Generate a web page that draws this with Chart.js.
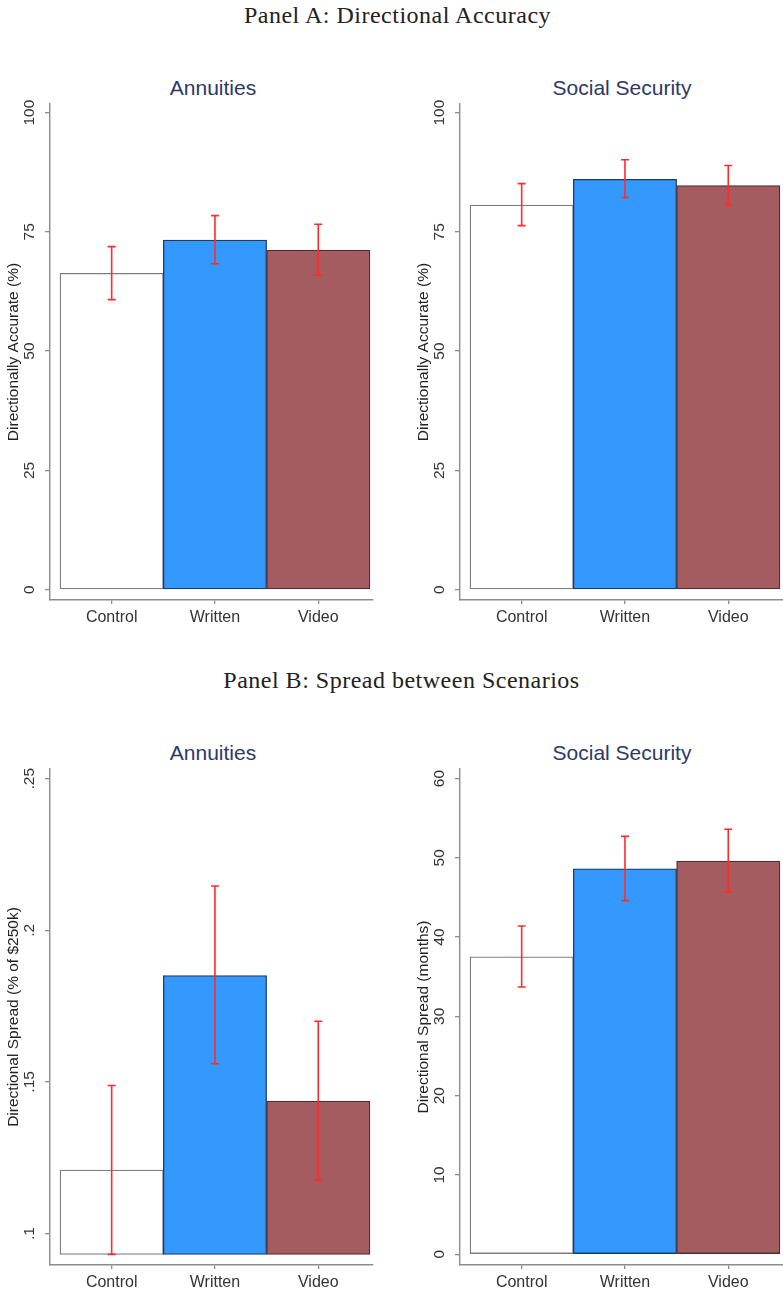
<!DOCTYPE html>
<html>
<head>
<meta charset="utf-8">
<script src="https://cdn.jsdelivr.net/npm/chart.js@4.4.1/dist/chart.umd.min.js"></script>
<style>
  html, body { margin: 0; padding: 0; background: #fff; overflow: hidden; }
  #page { position: relative; width: 783px; height: 1293px; }
  .panel-hdr { position: absolute; left: 0; width: 783px; text-align: center; font-family: 'Liberation Serif', 'DejaVu Serif', serif; font-size: 24px; color: #222; line-height: 26px; letter-spacing: 0.5px; }
  .sub-title { position: absolute; font-family: 'Liberation Sans', Arial, sans-serif; font-size: 21px; color: #2b3966; line-height: 24px; text-align: center; width: 300px; }
  .box { position: absolute; }
</style>
</head>
<body>
<div id="page">
  <div class="panel-hdr" style="top:2px;padding-left:6px">Panel A: Directional Accuracy</div>
  <div class="panel-hdr" style="top:667px;padding-left:10px">Panel B: Spread between Scenarios</div>

  <div class="sub-title" style="left:63px;top:76px">Annuities</div>
  <div class="sub-title" style="left:472px;top:76px">Social Security</div>
  <div class="sub-title" style="left:63px;top:741px">Annuities</div>
  <div class="sub-title" style="left:472px;top:741px">Social Security</div>

  <div class="box" style="left:0;top:95px;width:390px;height:545px"><canvas id="a-ann"></canvas></div>
  <div class="box" style="left:410px;top:95px;width:373px;height:545px"><canvas id="a-ss"></canvas></div>
  <div class="box" style="left:0;top:760px;width:390px;height:533px"><canvas id="b-ann"></canvas></div>
  <div class="box" style="left:410px;top:760px;width:373px;height:533px"><canvas id="b-ss"></canvas></div>
</div>

<script>
// ---- data ----
const categories = ['Control', 'Written', 'Video'];

// Panel A: directionally accurate (%)
const accAnnMean = [66.3, 73.3, 71.2];
const accAnnLo   = [60.8, 68.3, 65.9];
const accAnnHi   = [71.9, 78.4, 76.6];
const accSsMean  = [80.6, 86.0, 84.7];
const accSsLo    = [76.3, 82.2, 80.7];
const accSsHi    = [85.1, 90.1, 88.9];
const accTicks   = [0, 25, 50, 75, 100];

// Panel B: directional spread
const sprAnnMean = [0.1209, 0.1851, 0.1437];
const sprAnnLo   = [0.0931, 0.1560, 0.1176];
const sprAnnHi   = [0.1488, 0.2146, 0.1700];
const sprAnnTicks = [0.1, 0.15, 0.2, 0.25];
const sprAnnTickLabels = ['.1', '.15', '.2', '.25'];
const sprSsMean  = [37.5, 48.6, 49.6];
const sprSsLo    = [33.7, 44.6, 45.7];
const sprSsHi    = [41.4, 52.7, 53.6];
const sprSsTicks = [0, 10, 20, 30, 40, 50, 60];

const FILL = ['#ffffff', '#3399ff', '#a45c61'];
const EDGE = ['#7d7d7d', '#1d3b63', '#4e3034'];
const AXIS = '#8c8c8c';
const SANS = "'Liberation Sans', Arial, sans-serif";

// red CI whiskers, drawn through the chart's own scales
const errorBars = {
  id: 'errorBars',
  afterDatasetsDraw(chart, args, opts) {
    const { ctx, scales: { x, y } } = chart;
    ctx.save();
    ctx.strokeStyle = '#ff2b2b';
    ctx.lineWidth = 1.6;
    opts.lo.forEach((lo, i) => {
      const px = x.getPixelForValue(i + 1);
      const yl = y.getPixelForValue(lo), yh = y.getPixelForValue(opts.hi[i]);
      ctx.beginPath();
      ctx.moveTo(px, yl); ctx.lineTo(px, yh);
      ctx.moveTo(px - 4, yl); ctx.lineTo(px + 4, yl);
      ctx.moveTo(px - 4, yh); ctx.lineTo(px + 4, yh);
      ctx.stroke();
    });
    ctx.restore();
  }
};

// Stata-style y labels, turned 90 degrees
const rotatedYLabels = {
  id: 'rotatedYLabels',
  afterDraw(chart, args, opts) {
    const { ctx, scales: { y } } = chart;
    ctx.save();
    ctx.fillStyle = '#333';
    ctx.font = '15.5px ' + SANS;
    ctx.textAlign = 'center';
    ctx.textBaseline = 'middle';
    y.ticks.forEach((t, i) => {
      const py = y.getPixelForValue(t.value);
      ctx.save();
      ctx.translate(y.right - 20, py);
      ctx.rotate(-Math.PI / 2);
      ctx.fillText(opts.labels[i], 0, 0);
      ctx.restore();
    });
    ctx.restore();
  }
};

function makeChart(id, cfg) {
  const data = cfg.mean.map((v, i) => ({ x: i + 1, y: v }));
  return new Chart(document.getElementById(id), {
    type: 'bar',
    data: {
      datasets: [{
        data,
        base: cfg.base,
        backgroundColor: FILL,
        borderColor: EDGE,
        borderWidth: 1.3,
        borderSkipped: false,
        barPercentage: 1,
        categoryPercentage: 1
      }]
    },
    options: {
      responsive: true,
      maintainAspectRatio: false,
      animation: false,
      layout: { autoPadding: false, padding: { top: 9, right: cfg.padRight, left: 0, bottom: 0 } },
      plugins: {
        legend: { display: false },
        tooltip: { enabled: false },
        errorBars: { lo: cfg.lo, hi: cfg.hi },
        rotatedYLabels: { labels: cfg.tickLabels }
      },
      scales: {
        x: {
          type: 'linear',
          min: 0.403, max: 3.53,
          offset: false,
          afterBuildTicks: s => { s.ticks = categories.map((c, i) => ({ value: i + 1 })); },
          afterFit: s => { s.height = cfg.xHeight; },
          ticks: {
            callback: (v) => categories[v - 1],
            color: '#333',
            font: { family: SANS, size: 16 },
            padding: 4,
            maxRotation: 0
          },
          grid: { display: true, drawOnChartArea: false, drawTicks: true, tickLength: 4, color: AXIS, lineWidth: 1.3, offset: false },
          border: { display: true, color: AXIS, width: 1.4 }
        },
        y: {
          type: 'linear',
          min: cfg.min, max: cfg.max,
          beginAtZero: false,
          afterBuildTicks: s => { s.ticks = cfg.ticks.map(v => ({ value: v })); },
          afterFit: s => { s.width = 50; },
          ticks: { display: false },
          grid: { display: true, drawOnChartArea: false, drawTicks: true, tickLength: 5, color: AXIS, lineWidth: 1.3 },
          border: { display: true, color: AXIS, width: 1.4 },
          title: {
            display: true,
            text: cfg.yTitle,
            color: '#222',
            font: { family: SANS, size: 15.5 },
            padding: { top: 4, bottom: 0 }
          }
        }
      }
    },
    plugins: [errorBars, rotatedYLabels]
  });
}

makeChart('a-ann', {
  mean: accAnnMean, lo: accAnnLo, hi: accAnnHi, base: 0,
  min: -2.17, max: 101.8, ticks: accTicks, tickLabels: accTicks.map(String),
  yTitle: 'Directionally Accurate (%)', padRight: 17, xHeight: 40
});
makeChart('a-ss', {
  mean: accSsMean, lo: accSsLo, hi: accSsHi, base: 0,
  min: -2.17, max: 101.8, ticks: accTicks, tickLabels: accTicks.map(String),
  yTitle: 'Directionally Accurate (%)', padRight: 0, xHeight: 40
});
makeChart('b-ann', {
  mean: sprAnnMean, lo: sprAnnLo, hi: sprAnnHi, base: 0.0931,
  min: 0.0896, max: 0.2532, ticks: sprAnnTicks, tickLabels: sprAnnTickLabels,
  yTitle: 'Directional Spread (% of $250k)', padRight: 17, xHeight: 28
});
makeChart('b-ss', {
  mean: sprSsMean, lo: sprSsLo, hi: sprSsHi, base: 0,
  min: -1.36, max: 61.2, ticks: sprSsTicks, tickLabels: sprSsTicks.map(String),
  yTitle: 'Directional Spread (months)', padRight: 0, xHeight: 28
});
</script>
</body>
</html>
